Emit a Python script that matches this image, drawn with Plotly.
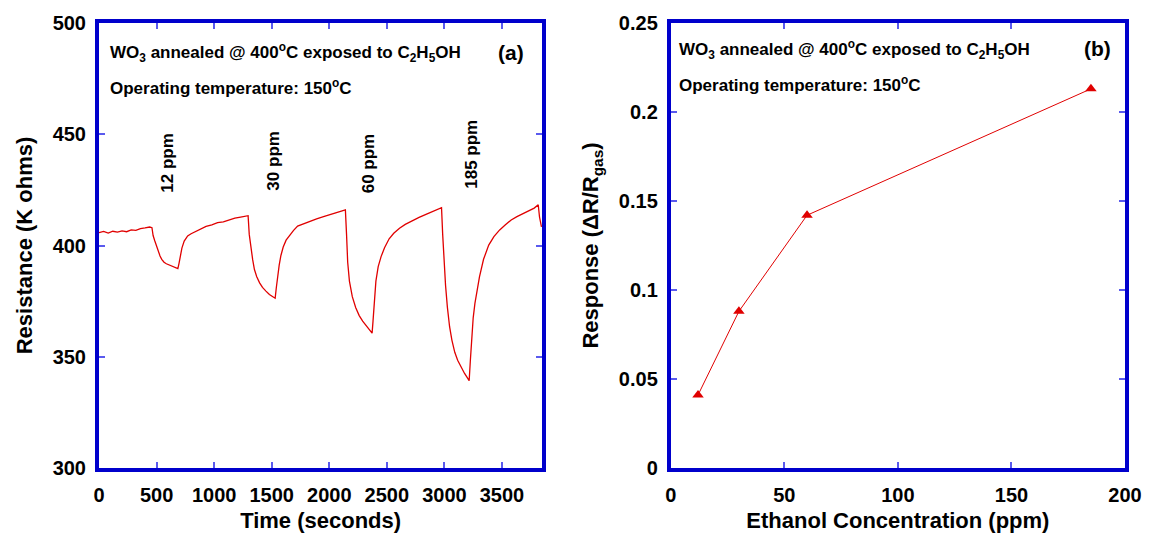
import plotly.graph_objects as go
from plotly.subplots import make_subplots

# ---- Panel (a): resistance transient ----
time_s = [0, 40, 80, 120, 160, 200, 240, 280, 320, 360, 400, 440, 460,
          470, 485, 500, 515, 530, 545, 565, 585, 610, 635, 660, 685,
          695, 705, 720, 740, 770, 800, 840, 880, 930, 980, 1030, 1080, 1130, 1180, 1230, 1270, 1295,
          1305, 1320, 1335, 1350, 1370, 1395, 1420, 1450, 1480, 1510, 1530,
          1540, 1550, 1565, 1580, 1600, 1625, 1655, 1690, 1725, 1770, 1830, 1890, 1950, 2010, 2060, 2100, 2140,
          2150, 2160, 2175, 2200, 2230, 2260, 2290, 2320, 2350, 2372,
          2380, 2390, 2405, 2425, 2450, 2480, 2520, 2560, 2610, 2660, 2720, 2780, 2840, 2900, 2950, 2975,
          2985, 2997, 3010, 3026, 3045, 3065, 3090, 3115, 3145, 3175, 3200, 3215,
          3225, 3237, 3250, 3265, 3285, 3305, 3340, 3385, 3430, 3480, 3530, 3580, 3630, 3680, 3730, 3780, 3815, 3826, 3843]
resistance_kohm = [405.8, 406.3, 405.6, 406.4, 406.0, 406.6, 406.2, 407.0, 406.8, 407.6, 407.9, 408.3, 408.0,
                   404.5, 402.0, 399.5, 397.5, 395.3, 393.8, 392.5, 391.8, 391.2, 390.9, 390.2, 389.6,
                   392.0, 395.0, 398.8, 402.0, 404.3, 405.3, 406.4, 407.3, 408.6, 409.3, 410.3, 410.6, 411.6, 412.3, 412.8, 413.2, 413.4,
                   405.0, 398.8, 393.5, 389.2, 386.0, 383.2, 381.2, 379.5, 378.0, 377.0, 376.3,
                   381.0, 386.5, 391.2, 395.5, 399.3, 402.4, 404.6, 406.8, 408.7, 409.6, 411.0, 412.0, 413.0, 414.0, 414.6, 415.5, 416.0,
                   405.0, 392.5, 384.0, 377.0, 372.0, 368.5, 366.0, 364.0, 362.0, 360.6,
                   366.0, 374.5, 384.0, 390.5, 395.0, 399.0, 403.0, 405.5, 407.8, 409.5, 411.2, 412.6, 414.0, 415.2, 416.3, 417.0,
                   405.0, 392.9, 382.0, 372.2, 363.5, 357.5, 352.0, 348.4, 345.3, 342.5, 340.5, 339.2,
                   348.0, 360.4, 367.5, 374.0, 381.0, 386.0, 393.8, 400.2, 404.0, 407.0, 409.3, 411.5, 413.0, 414.3, 415.6, 416.8, 418.3, 412.8, 408.4]

pulse_labels = ["12 ppm", "30 ppm", "60 ppm", "185 ppm"]
pulse_label_x = [595, 1514, 2337, 3239]
pulse_label_y = [422.6, 423.9, 422.6, 424.8]

# ---- Panel (b): response vs concentration ----
conc_ppm = [12, 30, 60, 185]
response = [0.041, 0.088, 0.142, 0.213]

left_xticks = [0, 500, 1000, 1500, 2000, 2500, 3000, 3500]
left_yticks = [300, 350, 400, 450, 500]
right_xticks = [0, 50, 100, 150, 200]
right_yticks = [0, 0.05, 0.1, 0.15, 0.2, 0.25]
right_yticklabels = ["0", "0.05", "0.1", "0.15", "0.2", "0.25"]

RED = "#e00000"
FRAME = "#0000cc"
TICK = "#5a5aee"
FONT = "Liberation Sans, Arial, sans-serif"

W, H = 1154, 542
ML, MR, MT, MB = 99, 25, 16, 72
PW, PH = W - ML - MR, H - MT - MB

def px(xp):
    return (xp - ML) / PW

def py(yp):
    return (H - MB - yp) / PH

fig = make_subplots(rows=1, cols=2)

fig.add_trace(go.Scatter(x=time_s, y=resistance_kohm, mode="lines",
                         line=dict(color=RED, width=1.3), showlegend=False), row=1, col=1)
fig.add_trace(go.Scatter(x=conc_ppm, y=response, mode="lines+markers",
                         line=dict(color=RED, width=1),
                         marker=dict(symbol="triangle-up", size=10, color=RED),
                         showlegend=False), row=1, col=2)

axis_common = dict(showline=True, linecolor=FRAME, linewidth=4, mirror="ticks",
                   ticks="inside", ticklen=6, tickwidth=1.5, tickcolor=TICK,
                   showgrid=False, zeroline=False,
                   tickfont=dict(family=FONT, size=20, color="black", weight="bold"))
title_font = dict(family=FONT, size=22, color="black", weight="bold")

fig.update_xaxes(axis_common, ticklabelstandoff=6)
fig.update_yaxes(axis_common, ticklabelstandoff=5)

fig.update_xaxes(range=[0, 3850], tickvals=left_xticks, domain=[0, px(544)],
                 title=dict(text="Time (seconds)", font=title_font, standoff=9), row=1, col=1)
fig.update_yaxes(range=[300, 500], tickvals=left_yticks,
                 title=dict(text="Resistance (K ohms)", font=title_font, standoff=15), row=1, col=1)
fig.update_xaxes(range=[0, 200], tickvals=right_xticks, domain=[px(673), 1],
                 title=dict(text="Ethanol Concentration (ppm)", font=title_font, standoff=9), row=1, col=2)
fig.update_yaxes(range=[0, 0.25], tickvals=right_yticks, ticktext=right_yticklabels,
                 title=dict(text="Response (ΔR/R<sub>gas</sub>)", font=title_font, standoff=15), row=1, col=2)

note_font = dict(family=FONT, size=17, color="black", weight="bold")
line1 = "WO<sub>3</sub> annealed @ 400<sup>o</sup>C exposed to C<sub>2</sub>H<sub>5</sub>OH"
line2 = "Operating temperature: 150<sup>o</sup>C"

annots = []
for x0, y1, y2, lab, xl, yl in [(108, 46, 81, "(a)", 513, 46), (679, 43, 78, "(b)", 1101, 42)]:
    annots.append(dict(text=line1, x=px(x0), y=py(y1), xref="paper", yref="paper",
                       xanchor="left", yanchor="middle", showarrow=False, font=note_font))
    annots.append(dict(text=line2, x=px(x0), y=py(y2), xref="paper", yref="paper",
                       xanchor="left", yanchor="middle", showarrow=False, font=note_font))
    annots.append(dict(text=lab, x=px(xl), y=py(yl), xref="paper", yref="paper",
                       xanchor="center", yanchor="middle", showarrow=False,
                       font=dict(family=FONT, size=21, color="black", weight="bold")))
for lab, xv, yv in zip(pulse_labels, pulse_label_x, pulse_label_y):
    annots.append(dict(text=lab, x=xv, y=yv, xref="x", yref="y", textangle=-90,
                       xanchor="center", yanchor="bottom", showarrow=False, font=note_font))

fig.update_layout(width=W, height=H, margin=dict(l=ML, r=MR, t=MT, b=MB),
                  paper_bgcolor="white", plot_bgcolor="white", annotations=annots)

fig.write_html("out.html")
